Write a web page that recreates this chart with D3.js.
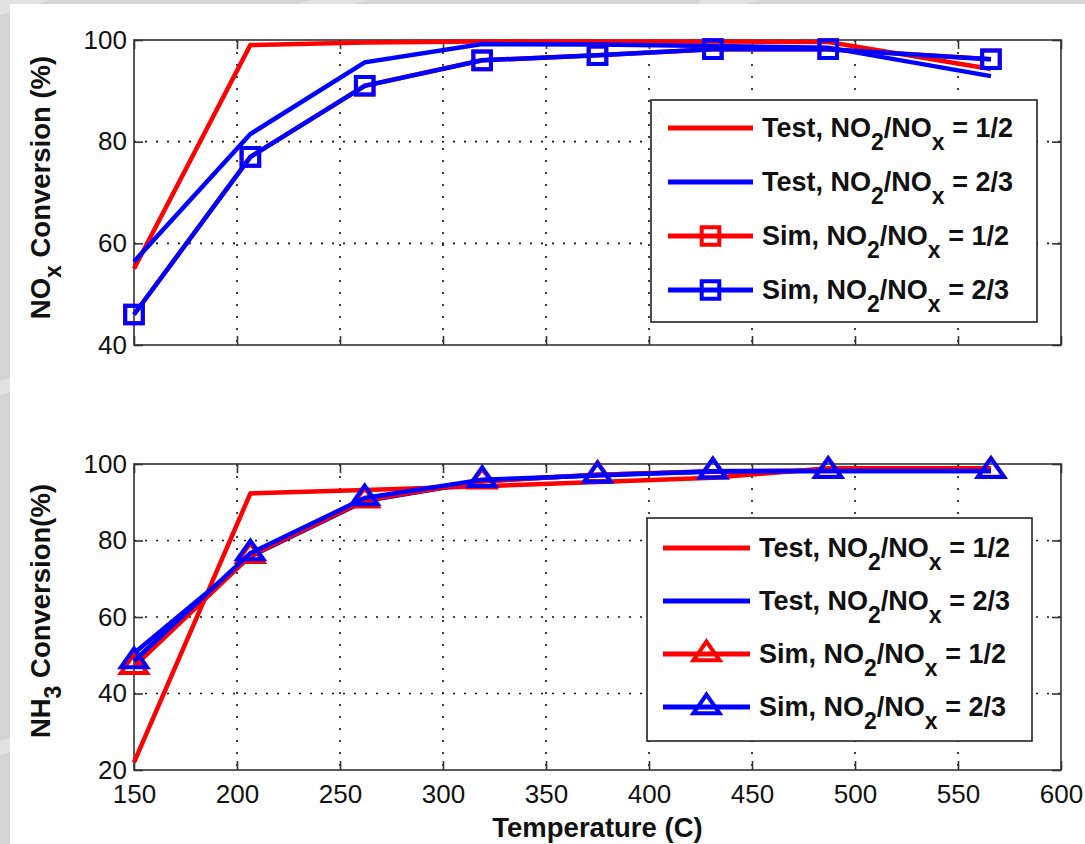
<!DOCTYPE html>
<html>
<head>
<meta charset="utf-8">
<script src="https://cdn.jsdelivr.net/npm/d3@7"></script>
<style>
  html, body { margin: 0; padding: 0; background: #d6d6d6; }
  svg { display: block; }
  text { font-family: "Liberation Sans", Arial, Helvetica, sans-serif; fill: #111; }
</style>
</head>
<body>
<svg id="chart" width="1085" height="844"></svg>
<script>
// Measurement temperatures (C)
const temps = [150, 206.5, 262, 319, 375, 431, 487, 566];
const tempTicks = [150, 200, 250, 300, 350, 400, 450, 500, 550, 600];

// NOx conversion (%)
const noxTestHalf      = [55, 99, 99.5, 99.7, 99.7, 99.7, 99.6, 94.3];
const noxTestTwoThirds = [56.4, 81.5, 95.6, 99.2, 99.1, 98.8, 98.5, 92.9];
const noxSimHalf       = [46, 77, 91, 96, 97, 98.2, 98.2, 96.2];
const noxSimTwoThirds  = [46, 77, 91, 96, 97, 98.2, 98.2, 96.2];
const noxTicks = [40, 60, 80, 100];

// NH3 conversion (%)
const nh3TestHalf      = [22, 92.3, 93.2, 94.2, 95.3, 96.4, 98.9, 98.9];
const nh3TestTwoThirds = [50.5, 75.8, 90.3, 95.5, 97.2, 98, 98.2, 98.2];
const nh3SimHalf       = [47, 76, 90.5, 95.5, 97.2, 98.1, 98.3, 98.3];
const nh3SimTwoThirds  = [48.5, 76.7, 91.1, 95.9, 97, 98.1, 98.2, 98.2];
const nh3Ticks = [20, 40, 60, 80, 100];

// Series descriptors (legend order = drawing order)
const seriesKinds  = ["Test", "Test", "Sim", "Sim"];
const seriesRatios = ["1/2", "2/3", "1/2", "2/3"];
const seriesColors = ["#ff0000", "#0000ff", "#ff0000", "#0000ff"];
const seriesMarked = [false, false, true, true];

const svg = d3.select("#chart");

// page backdrop and white figure sheet
svg.append("rect").attr("width", 1085).attr("height", 844).attr("fill", "#d4d4d4");
const streaks = svg.append("g").attr("stroke", "#ececec").attr("stroke-width", 14).attr("opacity", 0.6);
[[-40, 20, 60, -10], [-40, 400, 60, 370], [-40, 760, 60, 730], [300, 10, 420, -20], [700, 8, 820, -22]]
  .forEach(s => streaks.append("line").attr("x1", s[0]).attr("y1", s[1]).attr("x2", s[2]).attr("y2", s[3]));
svg.append("rect").attr("x", 10).attr("y", 4).attr("width", 1075).attr("height", 840).attr("fill", "#fff");

// custom MATLAB-like upward triangle (centred on its centroid)
const triangleWide = {
  draw(ctx, size) {
    const k = Math.sqrt(size) / 3;
    ctx.moveTo(0, -2 * k);
    ctx.lineTo(2.1 * k, k);
    ctx.lineTo(-2.1 * k, k);
    ctx.closePath();
  }
};

function drawPanel(opt) {
  const W = 927, H = opt.height;
  const g = svg.append("g").attr("transform", `translate(${opt.left},${opt.top})`);

  const x = d3.scaleLinear().domain([150, 600]).range([0, W]);
  const y = d3.scaleLinear().domain(opt.yDomain).range([H, 0]);

  // dotted grid
  const grid = g.append("g").attr("stroke", "#111").attr("stroke-width", 1.6);
  grid.selectAll("line.v").data(tempTicks.slice(1, -1)).join("line")
    .attr("x1", d => x(d)).attr("x2", d => x(d)).attr("y1", 0).attr("y2", H)
    .attr("stroke-dasharray", "2 10");
  grid.selectAll("line.h").data(opt.yTicks.slice(1, -1)).join("line")
    .attr("y1", d => y(d)).attr("y2", d => y(d)).attr("x1", 0).attr("x2", W)
    .attr("stroke-dasharray", "2 9");

  // axes with inward ticks on all four sides
  const tickLen = 9;
  const styleAxis = sel => {
    sel.select(".domain").remove();
    sel.selectAll(".tick line").attr("stroke", "#333").attr("stroke-width", 1.6);
    sel.selectAll("text").attr("font-size", 26).attr("fill", "#111")
      .attr("font-family", "Liberation Sans, Arial, sans-serif");
  };
  g.append("g").attr("transform", `translate(0,${H})`)
    .call(d3.axisBottom(x).tickValues(tempTicks).tickSize(-tickLen).tickPadding(15)
      .tickFormat(opt.xLabels ? d3.format("d") : () => ""))
    .call(styleAxis);
  g.append("g")
    .call(d3.axisTop(x).tickValues(tempTicks).tickSize(-tickLen).tickFormat(() => ""))
    .call(styleAxis);
  g.append("g")
    .call(d3.axisLeft(y).tickValues(opt.yTicks).tickSize(-tickLen).tickPadding(7).tickFormat(d3.format("d")))
    .call(styleAxis);
  g.append("g").attr("transform", `translate(${W},0)`)
    .call(d3.axisRight(y).tickValues(opt.yTicks).tickSize(-tickLen).tickFormat(() => ""))
    .call(styleAxis);

  // axes box
  g.append("rect").attr("width", W).attr("height", H)
    .attr("fill", "none").attr("stroke", "#333").attr("stroke-width", 1.6);

  const line = d3.line().x(d => x(d.t)).y(d => y(d.v));
  const markerPath = d3.symbol().type(opt.marker === "square" ? d3.symbolSquare : triangleWide)
    .size(opt.marker === "square" ? 310 : 350);

  opt.series.forEach((vals, i) => {
    const pts = temps.map((t, j) => ({ t, v: vals[j] }));
    g.append("path").datum(pts).attr("d", line)
      .attr("fill", "none").attr("stroke", seriesColors[i]).attr("stroke-width", 4.5)
      .attr("stroke-linejoin", "miter");
    if (seriesMarked[i]) {
      g.selectAll(null).data(pts).join("path")
        .attr("transform", d => `translate(${x(d.t)},${y(d.v)})`)
        .attr("d", markerPath)
        .attr("fill", "none").attr("stroke", seriesColors[i]).attr("stroke-width", 4);
    }
  });

  // y label with subscript
  const yl = g.append("text")
    .attr("transform", `translate(${opt.yLabelX - opt.left},${H / 2 + opt.yLabelShift}) rotate(-90)`)
    .attr("text-anchor", "middle").attr("font-weight", "bold").attr("font-size", 27.5);
  yl.append("tspan").text(opt.yLabel[0]);
  yl.append("tspan").attr("dy", 11).attr("font-size", 23).text(opt.yLabel[1]);
  yl.append("tspan").attr("dy", -11).text(opt.yLabel[2]);

  if (opt.xTitle) {
    g.append("text").attr("x", W / 2).attr("y", H + 67)
      .attr("text-anchor", "middle").attr("font-weight", "bold").attr("font-size", 27.5)
      .text(opt.xTitle);
  }

  // legend
  const L = opt.legend;
  const lg = svg.append("g").attr("transform", `translate(${L.x},${L.y})`);
  lg.append("rect").attr("width", L.w).attr("height", L.h)
    .attr("fill", "#fff").attr("stroke", "#222").attr("stroke-width", 1.6);
  seriesKinds.forEach((kind, i) => {
    const cy = L.row0 + i * L.step;
    lg.append("line").attr("x1", L.lineX0).attr("x2", L.lineX1).attr("y1", cy).attr("y2", cy)
      .attr("stroke", seriesColors[i]).attr("stroke-width", 5);
    if (seriesMarked[i]) {
      lg.append("path").attr("transform", `translate(${(L.lineX0 + L.lineX1) / 2},${cy})`)
        .attr("d", markerPath).attr("fill", "none").attr("stroke", seriesColors[i]).attr("stroke-width", 4);
    }
    const t = lg.append("text").attr("x", L.textX).attr("y", cy + 9)
      .attr("font-weight", "bold").attr("font-size", 27);
    t.append("tspan").text(`${kind}, NO`);
    t.append("tspan").attr("dy", 13).attr("font-size", 23).text("2");
    t.append("tspan").attr("dy", -13).text("/NO");
    t.append("tspan").attr("dy", 13).attr("font-size", 23).text("x");
    t.append("tspan").attr("dy", -13).text(` = ${seriesRatios[i]}`);
  });
}

drawPanel({
  left: 134, top: 40, height: 305,
  yDomain: [40, 100], yTicks: noxTicks,
  series: [noxTestHalf, noxTestTwoThirds, noxSimHalf, noxSimTwoThirds],
  marker: "square", xLabels: false,
  yLabel: ["NO", "x", " Conversion (%)"], yLabelX: 50, yLabelShift: -5,
  legend: { x: 651, y: 100, w: 386, h: 222, row0: 28, step: 54, lineX0: 17, lineX1: 102, textX: 111 }
});

drawPanel({
  left: 134, top: 464, height: 306,
  yDomain: [20, 100], yTicks: nh3Ticks,
  series: [nh3TestHalf, nh3TestTwoThirds, nh3SimHalf, nh3SimTwoThirds],
  marker: "triangle", xLabels: true, xTitle: "Temperature (C)",
  yLabel: ["NH", "3", " Conversion(%)"], yLabelX: 50, yLabelShift: -6,
  legend: { x: 647, y: 518, w: 385, h: 223, row0: 30, step: 53, lineX0: 16, lineX1: 103, textX: 112 }
});
</script>
</body>
</html>
